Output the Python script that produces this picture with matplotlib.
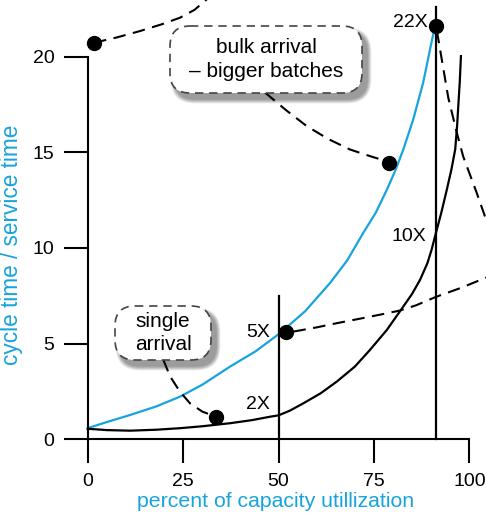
import matplotlib
matplotlib.use('Agg')
import matplotlib.pyplot as plt
import matplotlib.transforms as mtransforms
from matplotlib.patches import FancyBboxPatch

plt.rcParams['font.family'] = ['Liberation Sans', 'DejaVu Sans']

cyan = '#17a3dd'

# bulk arrival curve (blue)
bulk_x = [0, 5, 11.1, 18, 24.2, 30, 37.3, 44, 50.4, 57, 63.5, 68, 72.2, 75.5, 78.4,
          80.6, 82.7, 85.3, 87.9, 89.7, 91.0]
bulk_y = [0.58, 0.9, 1.27, 1.72, 2.23, 2.85, 3.8, 4.6, 5.55, 6.7, 8.17, 9.35, 10.79, 11.85, 13.05,
          14.05, 15.15, 16.72, 18.64, 20.38, 21.6]

# single arrival curve (black)
single_x = [0, 5, 11.1, 18, 24.2, 30, 37.3, 43, 47.8, 50.0, 53, 56.5, 61, 65.3, 70, 74.0,
            78.4, 82.7, 85, 87.1, 89, 90.1, 91.0, 92.6, 94.1, 95.3, 96.3, 96.8, 97.1, 97.5, 97.8]
single_y = [0.55, 0.48, 0.45, 0.5, 0.58, 0.68, 0.84, 1.0, 1.18, 1.25, 1.5, 1.88, 2.4, 3.02, 3.8, 4.68,
            5.72, 6.94, 7.6, 8.34, 9.2, 9.9, 10.6, 11.8, 13.05, 14.1, 15.15, 16.4, 17.4, 18.7, 20.03]

# vertical markers
vlines_x = [50, 91.2]
vlines_top = [7.5, 22.6]

# dots
dots_x = [1.65, 91.3, 79.0, 52.0, 33.6]
dots_y = [20.7, 21.6, 14.45, 5.63, 1.18]

# dashed leaders
lead_top_x = [1.65, 7.5, 13.7, 19.5, 24.2, 28.0, 31.2]
lead_top_y = [20.73, 21.0, 21.34, 21.7, 22.04, 22.45, 23.0]
lead_right_x = [91.5, 94.5, 96.7, 98.4, 101.9, 104.1]
lead_right_y = [21.35, 17.84, 16.04, 14.78, 12.9, 11.65]
lead_mid_x = [53.9, 60, 65.3, 72, 78, 81.8, 86, 91.2, 97.6, 104.4]
lead_mid_y = [5.63, 5.85, 6.07, 6.33, 6.57, 6.73, 7.0, 7.44, 7.9, 8.45]
lead_bulk_x = [46.5, 52, 57.4, 63, 68.7, 74, 78.4]
lead_bulk_y = [18.12, 17.2, 16.37, 15.7, 15.15, 14.8, 14.53]
lead_single_x = [19.8, 21.6, 24.2, 26.8, 30, 33.6]
lead_single_y = [4.16, 3.28, 2.48, 1.88, 1.45, 1.18]

marks = ['22X', '10X', '5X', '2X']
marks_x = [89.0, 88.8, 47.8, 47.8]
marks_y = [21.8, 10.6, 5.6, 1.8]

fig = plt.figure(figsize=(4.86, 5.13), dpi=100)
ax = fig.add_axes([0.1805, 0.1437, 0.7852, 0.7458])
ax.set_xlim(0, 100)
ax.set_ylim(0, 20)
ax.spines['top'].set_visible(False)
ax.spines['right'].set_visible(False)
for s in ['left', 'bottom']:
    ax.spines[s].set_linewidth(1.5)
ax.set_xticks([0, 25, 50, 75, 100])
ax.set_yticks([0, 5, 10, 15, 20])
ax.tick_params(direction='out', length=17, width=1.5, labelsize=14, pad=7)

ax.plot(bulk_x, bulk_y, color=cyan, lw=1.6, clip_on=False)
ax.plot(single_x, single_y, color='black', lw=1.6, clip_on=False)
for x, top in zip(vlines_x, vlines_top):
    ax.plot([x, x], [0, top], color='black', lw=1.6, clip_on=False)

dash = (0, (6.0, 3.6))
for lx, ly in [(lead_top_x, lead_top_y), (lead_right_x, lead_right_y),
               (lead_mid_x, lead_mid_y), (lead_bulk_x, lead_bulk_y),
               (lead_single_x, lead_single_y)]:
    ax.plot(lx, ly, color='black', lw=1.5, linestyle=dash, clip_on=False)

ax.plot(dots_x, dots_y, 'o', color='black', ms=10, clip_on=False, zorder=5)

for t, x, y in zip(marks, marks_x, marks_y):
    ax.text(x, y, t, ha='right', va='center', fontsize=14)

# boxes in pixel coordinates (from top-left)
px = mtransforms.Affine2D().scale(1 / 486, -1 / 513).translate(0, 1) + fig.transFigure


def callout(x0, y0, x1, y1, lines):
    w, h = x1 - x0, y1 - y0
    for i in range(9):
        g = 9 - i
        sh = FancyBboxPatch((x0 + 5 - g / 2, y0 + 6 - g / 2), w + g, h + g,
                            boxstyle='round,pad=0,rounding_size=%g' % (20 + g / 2),
                            transform=px, fc='black', ec='none', alpha=0.05,
                            zorder=6)
        fig.add_artist(sh)
    box = FancyBboxPatch((x0, y0), w, h, boxstyle='round,pad=0,rounding_size=20',
                         transform=px, fc='white', ec='#444444', lw=1.2,
                         linestyle=(0, (5, 3.5)), zorder=7)
    fig.add_artist(box)
    fig.text((x0 + x1) / 2 / 486, 1 - (y0 + y1) / 2 / 513, lines,
             ha='center', va='center', fontsize=15, linespacing=1.3, zorder=8)


callout(170, 26, 362, 93, 'bulk arrival\n\u2013 bigger batches')
callout(115, 306, 211, 360, 'single\narrival')

ax.set_xlabel('percent of capacity utillization', color=cyan, fontsize=15.3)
ax.xaxis.set_label_coords(0.491, -0.138)
ax.set_ylabel('cycle time / service time', color=cyan, fontsize=16.3)
ax.yaxis.set_label_coords(-0.17, 0.508)

fig.savefig('out.png', dpi=100)
